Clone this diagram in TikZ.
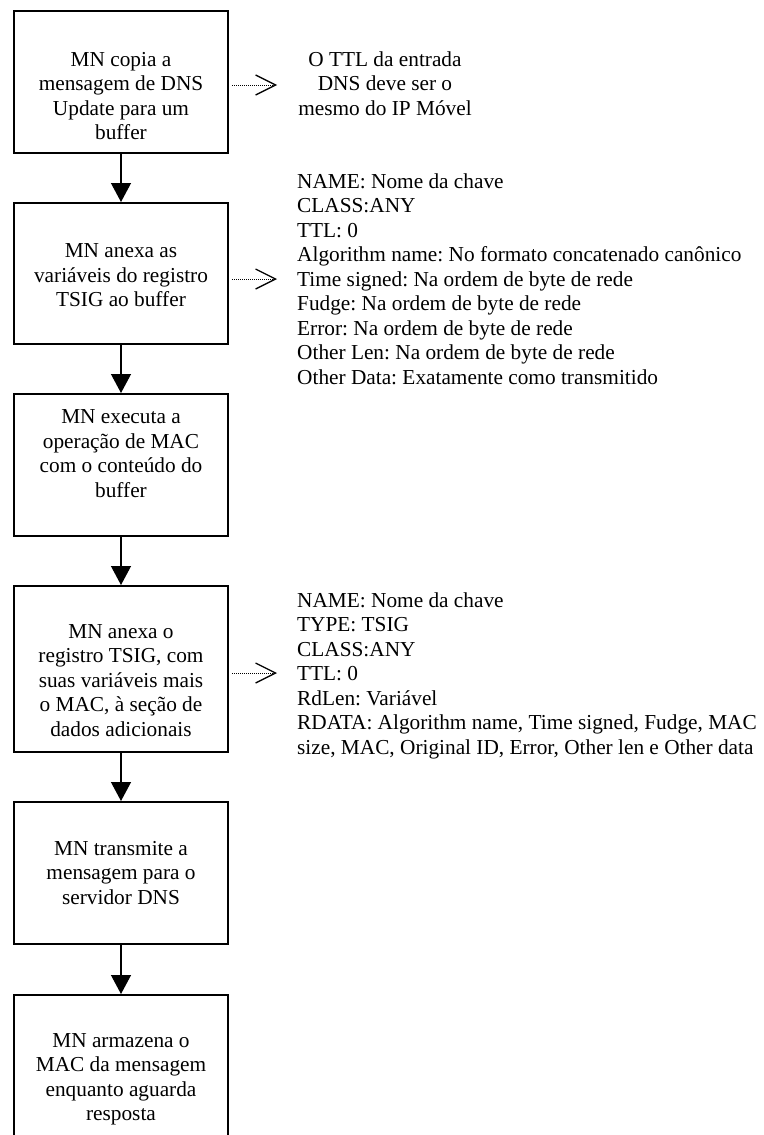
\documentclass[tikz,border=0pt]{standalone}
\usepackage{fontspec}
\setmainfont{Liberation Serif}
\usetikzlibrary{arrows.meta}
\frenchspacing
% multi-line text blocks whose baseline is that of their first line
\newcommand\clines[1]{\begin{tabular}[t]{@{}c@{}}#1\end{tabular}}
\newcommand\llines[1]{\begin{tabular}[t]{@{}l@{}}#1\end{tabular}}
\begin{document}
\begin{tikzpicture}[x=1pt,y=-1pt,
  font=\fontsize{21.3}{24.5}\selectfont,
  stepbox/.style={draw, line width=2pt, minimum width=214pt, inner sep=0pt},
  txt/.style={anchor=base, inner sep=0pt},
  flow/.style={line width=1.3pt, -{Triangle[length=19pt,width=20pt]}},
  note/.style={line width=1pt, dash pattern=on 1pt off 1pt,
    -{Straight Barb[length=20pt,width=20pt,line width=1.3pt]}}]
\useasboundingbox (0,0) rectangle (763,1135);
\clip (0,0) rectangle (763,1135);

% process steps
\node[stepbox, minimum height=142pt] (b1) at (121,82) {};
\node[stepbox, minimum height=141pt] (b2) at (121,273.5) {};
\node[stepbox, minimum height=142pt] (b3) at (121,465) {};
\node[stepbox, minimum height=166pt] (b4) at (121,669) {};
\node[stepbox, minimum height=142pt] (b5) at (121,873) {};
\node[stepbox, minimum height=142pt] (b6) at (121,1066) {};

\node[txt] (l1) at (121,66.5) {\clines{MN copia a\\mensagem de DNS\\Update para um\\buffer}};
\node[txt] (l2) at (121,257.5) {\clines{MN anexa as\\variáveis do registro\\TSIG ao buffer}};
\node[txt] (l3) at (121,423.5) {\clines{MN executa a\\operação de MAC\\com o conteúdo do\\buffer}};
\node[txt] (l4) at (121,638) {\clines{MN anexa o\\registro TSIG, com\\suas variáveis mais\\o MAC, à seção de\\dados adicionais}};
\node[txt] (l5) at (121,855) {\clines{MN transmite a\\mensagem para o\\servidor DNS}};
\node[txt] (l6) at (121,1047) {\clines{MN armazena o\\MAC da mensagem\\enquanto aguarda\\resposta}};

% flow between steps
\draw[flow] (b1) -- (b2);
\draw[flow] (b2) -- (b3);
\draw[flow] (b3) -- (b4);
\draw[flow] (b4) -- (b5);
\draw[flow] (b5) -- (b6);

% side notes
\node[txt] (r1) at (385,66.5) {\clines{O TTL da entrada\\DNS deve ser o\\mesmo do IP Móvel}};
\node[txt, anchor=base west] (r2) at (297,188) {\llines{NAME: Nome da chave\\CLASS:ANY\\TTL: 0\\Algorithm name: No formato concatenado canônico\\Time signed: Na ordem de byte de rede\\Fudge: Na ordem de byte de rede\\Error: Na ordem de byte de rede\\Other Len: Na ordem de byte de rede\\Other Data: Exatamente como transmitido}};
\node[txt, anchor=base west] (r3) at (297,607) {\llines{NAME: Nome da chave\\TYPE: TSIG\\CLASS:ANY\\TTL: 0\\RdLen: Variável\\RDATA: Algorithm name, Time signed, Fudge, MAC\\size, MAC, Original ID, Error, Other len e Other data}};

\coordinate (n1) at (277,85);
\coordinate (n2) at (277,279);
\coordinate (n4) at (277,673);
\draw[note, shorten <=3pt] (b1.east |- n1) -- (n1);
\draw[note, shorten <=3pt] (b2.east |- n2) -- (n2);
\draw[note, shorten <=3pt] (b4.east |- n4) -- (n4);
\end{tikzpicture}
\end{document}
